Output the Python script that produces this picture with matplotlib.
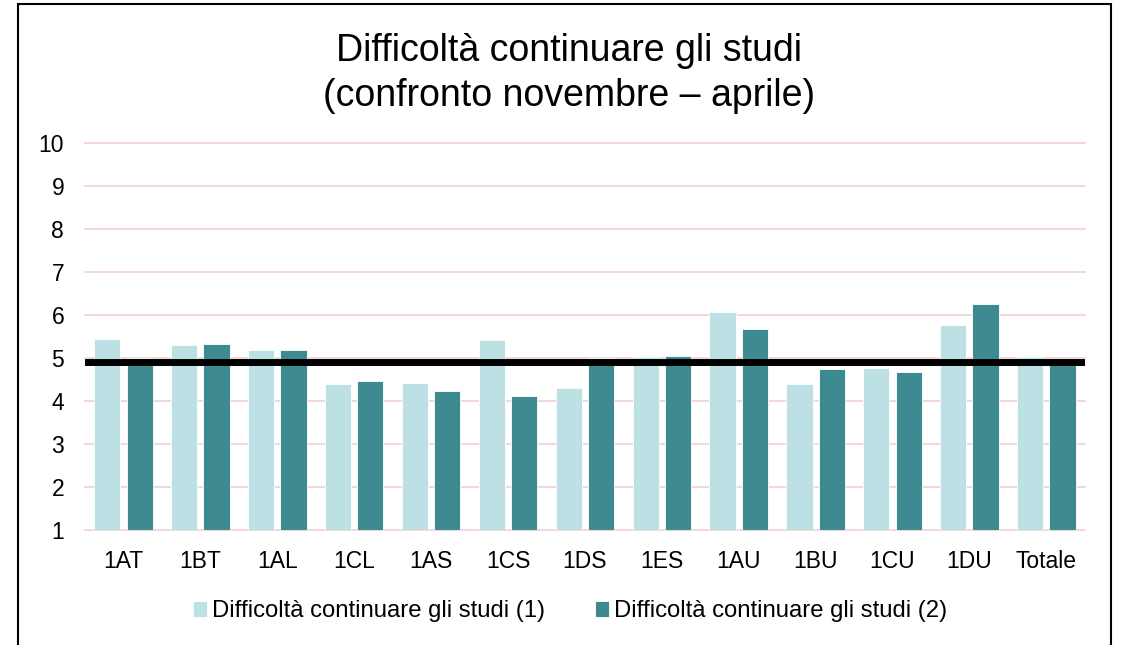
import numpy as np
import matplotlib.pyplot as plt
from matplotlib.patches import Rectangle

plt.rcParams['font.family'] = ['Liberation Sans', 'DejaVu Sans']

# dati
classi = ['1AT', '1BT', '1AL', '1CL', '1AS', '1CS', '1DS', '1ES', '1AU', '1BU', '1CU', '1DU', 'Totale']
serie1 = [5.45, 5.31, 5.19, 4.40, 4.42, 5.42, 4.31, 5.03, 6.08, 4.40, 4.78, 5.77, 5.03]
serie2 = [5.00, 5.33, 5.18, 4.47, 4.24, 4.12, 5.00, 5.06, 5.68, 4.74, 4.68, 6.25, 4.93]
nome1 = 'Difficoltà continuare gli studi (1)'
nome2 = 'Difficoltà continuare gli studi (2)'
riferimento = 4.91

col1 = '#BCE0E3'
col2 = '#3D8B91'

fig = plt.figure(figsize=(11.22, 6.45), dpi=100)
ax = fig.add_axes([0.0758, 0.178, 0.891, 0.600])

x = np.arange(len(classi))
w = 0.34
ax.bar(x - w / 2 - 0.04, serie1, w, color=col1, edgecolor='white', linewidth=0.6, label=nome1, zorder=2)
ax.bar(x + w / 2 + 0.04, serie2, w, color=col2, edgecolor='white', linewidth=0.6, label=nome2, zorder=2)

# linea di riferimento
ax.plot([-0.55, len(classi) - 0.45], [riferimento, riferimento], color='black', linewidth=5, zorder=3,
        solid_capstyle='butt')

ax.set_ylim(1, 10)
ax.set_xlim(-0.5, len(classi) - 0.5)
ax.set_yticks(range(1, 11))
ax.set_xticks(x)
ax.set_xticklabels(classi)
ax.tick_params(axis='both', length=0, labelsize=16.5, colors='black')
ax.tick_params(axis='y', pad=15)
ax.tick_params(axis='x', pad=14)
ax.yaxis.grid(True, color='#F2D3D9', linewidth=1.3, zorder=0)
for gl in ax.get_ygridlines():
    gl.set_clip_on(False)
ax.set_axisbelow(True)
for s in ax.spines.values():
    s.set_visible(False)

fig.text(0.507, 0.886, 'Difficoltà continuare gli studi\n(confronto novembre – aprile)',
         ha='center', va='center', fontsize=27, linespacing=1.34)

ax.legend(loc='center', bbox_to_anchor=(0.485, -0.21), ncol=2, frameon=False, fontsize=17.2,
          handlelength=0.6, handleheight=0.6, handletextpad=0.2, columnspacing=2.1)

# cornice
fig.patches.append(Rectangle((0.016, -0.01), 0.974, 1.004, transform=fig.transFigure,
                             fill=False, edgecolor='black', linewidth=1.5))

fig.savefig('out.png', dpi=100)
